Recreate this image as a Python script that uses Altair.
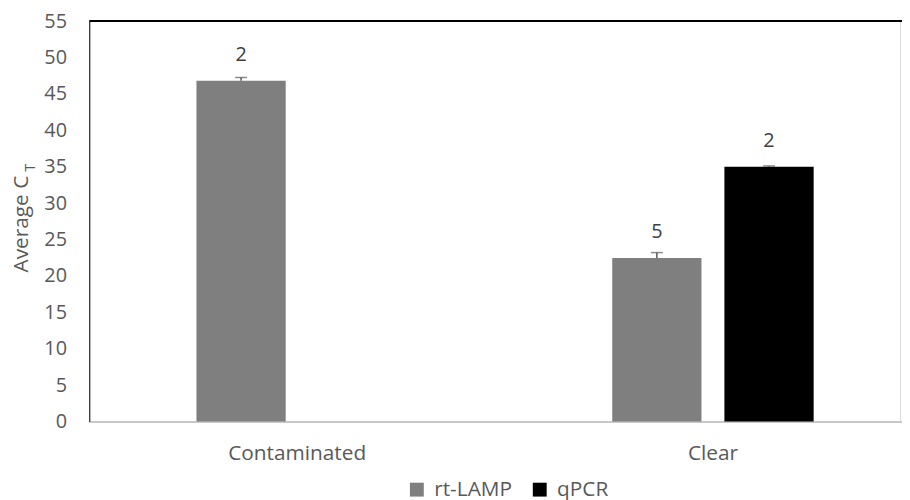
import altair as alt
import pandas as pd

categories = ["Contaminated", "Clear"]
series_names = ["rt-LAMP", "qPCR"]
rt_lamp_values = [46.8, 22.45]
rt_lamp_errors = [0.45, 0.75]
rt_lamp_n = ["2", "5"]
qpcr_values = [None, 35.0]
qpcr_errors = [None, 0.1]
qpcr_n = [None, "2"]
y_ticks = [0, 5, 10, 15, 20, 25, 30, 35, 40, 45, 50, 55]

rows = []
for i, c in enumerate(categories):
    for s, vals, errs, ns in [("rt-LAMP", rt_lamp_values, rt_lamp_errors, rt_lamp_n),
                              ("qPCR", qpcr_values, qpcr_errors, qpcr_n)]:
        if vals[i] is not None:
            rows.append({"category": c, "series": s, "value": vals[i],
                         "upper": vals[i] + errs[i], "n": ns[i]})
df = pd.DataFrame(rows)

FONT = "Open Sans"
W, H = 818, 404
XR = 839  # category axis extends past the cropped right edge

x_scale = alt.Scale(paddingInner=0, paddingOuter=0, range=[0, XR])
x_axis = alt.Axis(labelAngle=0, ticks=False, domainColor="#c8c8c8", domainWidth=2,
                  labelFontSize=21, labelColor="#595959", labelFont=FONT, labelPadding=21)
y_axis = alt.Axis(values=y_ticks, grid=False, ticks=False,
                  labelOverlap=False, labelFlush=False,
                  domainColor="#000000", domainWidth=1, labelFontSize=20,
                  labelColor="#595959", labelFont=FONT, labelPadding=23)
xo = alt.XOffset("series:N", sort=series_names,
                 scale=alt.Scale(domain=series_names, paddingInner=0.2044, paddingOuter=0.9556))
y_scale = alt.Scale(domain=[0, 55], nice=False)

base = alt.Chart(df)

def xenc():
    return alt.X("category:N", sort=categories, title=None, scale=x_scale, axis=x_axis)

bars = base.mark_bar().encode(
    x=xenc(),
    xOffset=xo,
    y=alt.Y("value:Q", scale=y_scale, title=None, axis=y_axis),
    color=alt.Color("series:N", sort=series_names,
                    scale=alt.Scale(domain=series_names, range=["#7f7f7f", "#000000"]),
                    legend=alt.Legend(title=None, orient="none", direction="horizontal",
                                      legendX=320, legendY=462, symbolType="square",
                                      symbolSize=196, symbolStrokeWidth=0, labelFontSize=21,
                                      labelColor="#595959", labelFont=FONT, columnPadding=17,
                                      labelOffset=7, symbolOpacity=1)),
)

err_rule = base.mark_rule(color="#595959", strokeWidth=1.5).encode(
    x=xenc(), xOffset=xo,
    y=alt.Y("value:Q", scale=y_scale, title=None, axis=y_axis), y2="upper:Q")

err_cap = base.mark_tick(color="#595959", thickness=1.5, size=12).encode(
    x=xenc(), xOffset=xo,
    y=alt.Y("upper:Q", scale=y_scale, title=None, axis=y_axis))

labels = base.mark_text(dy=-26, baseline="middle", fontSize=20, font=FONT, color="#404040").encode(
    x=xenc(), xOffset=xo,
    y=alt.Y("value:Q", scale=y_scale, title=None, axis=y_axis), text="n:N")

top_line = alt.Chart(pd.DataFrame({"a": [0]})).mark_rule(color="#000000", strokeWidth=2).encode(
    x=alt.value(0), x2=alt.value(XR), y=alt.value(0))

title_main = alt.Chart(pd.DataFrame({"t": ["Average C"]})).mark_text(
    angle=270, align="right", baseline="alphabetic", fontSize=21, font=FONT, color="#595959"
).encode(x=alt.value(-62), y=alt.value(156), text="t:N")

title_sub = alt.Chart(pd.DataFrame({"t": ["T"]})).mark_text(
    angle=270, align="right", baseline="alphabetic", fontSize=14, font=FONT, color="#595959"
).encode(x=alt.value(-55), y=alt.value(144), text="t:N")

chart = alt.layer(bars, err_rule, err_cap, labels, top_line, title_main, title_sub).properties(
    width=W, height=H,
    autosize=alt.AutoSizeParams(type="none"),
    padding={"left": 82, "top": 11, "right": 2, "bottom": 77},
).configure_view(stroke=None).configure(font=FONT)

chart.save("out.html", embed_options={"renderer": "svg", "actions": False})
